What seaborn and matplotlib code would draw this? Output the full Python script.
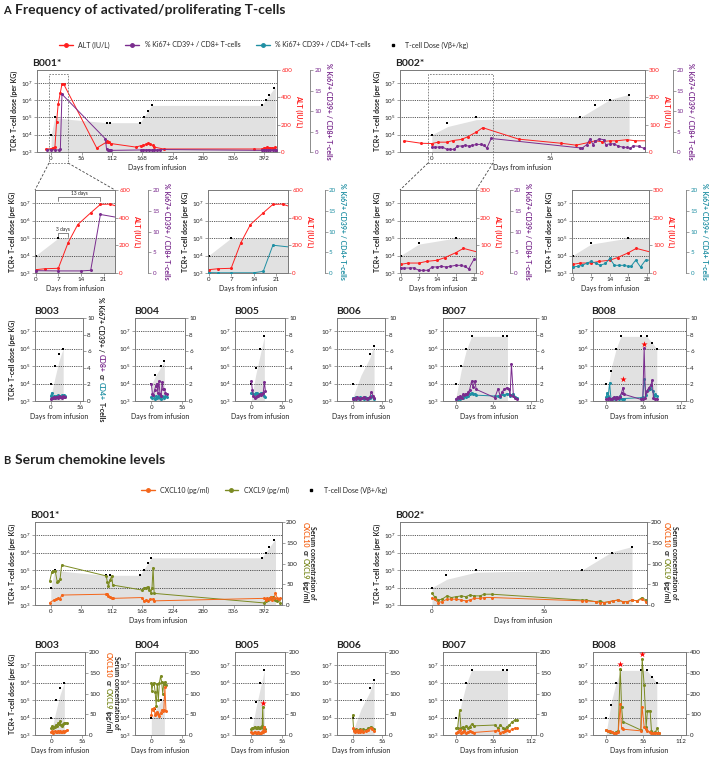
import matplotlib
matplotlib.use("Agg")
import matplotlib.pyplot as plt
from matplotlib.lines import Line2D
from matplotlib.patches import Rectangle
from matplotlib.ticker import NullLocator
import seaborn as sns

# ---------------- data ----------------
# B001
B001_DOSE_DAYS = [0, 7, 102, 109, 164, 171, 179, 185, 388, 395, 402, 411]
B001_DOSE = [1e4, 1e5, 5e4, 5e4, 5e4, 1e5, 2.5e5, 5e5, 5e5, 1e6, 2e6, 5e6]
B001_FILL_DAYS = [0, 7, 30, 60, 102, 164, 185, 388, 411, 413]
B001_FILL = [1e4, 1e5, 8e4, 6.5e4, 5e4, 5e4, 5e5, 5e5, 5e6, 5e6]
B001_ZOOM_FILL_DAYS = [0, 7, 30]
B001_ZOOM_FILL = [1e4, 1e5, 1e5]
B001_ALT_DAYS = [-9, 0, 3, 7, 10, 13, 17, 20, 23, 84, 101, 103, 105, 107, 110, 156, 165, 170,
                 175, 179, 183, 187, 190, 207, 374, 388, 392, 395, 398, 401, 404, 407, 410, 413]
B001_ALT = [22, 24, 31, 34, 218, 350, 435, 496, 498, 29, 70, 78, 76, 75, 62, 36, 46, 50,
            55, 65, 55, 48, 36, 22, 22, 22, 29, 31, 35, 31, 29, 31, 27, 33]
B001_CD8_DAYS = [-7, 0, 7, 14, 17, 20, 100, 102, 104, 106, 108, 111, 165, 170, 175, 180, 185,
                 190, 195, 200, 388, 392, 396, 400, 404, 408, 412, 415]
B001_CD8 = [0.55, 0.56, 0.5, 0.5, 0.65, 14.1, 3.2, 0.8, 0.6, 0.5, 0.5, 0.4, 0.5, 0.6, 0.5, 0.6,
            0.5, 0.6, 0.5, 0.6, 0.4, 0.5, 0.4, 0.5, 0.5, 0.4, 0.5, 0.4]
B001_CD4_DAYS = [0, 3, 7, 14, 17, 20, 27]
B001_CD4 = [0.1, 0.05, 0.05, 0.05, 0.4, 6.7, 6.1]
B001_CXCL9_DAYS = [-2, 2, 5, 8, 12, 14, 17, 20, 102, 104, 106, 109, 112, 114, 168, 172, 175, 178,
                   181, 184, 186, 188, 190, 392, 395, 398, 400, 403, 405, 408, 410, 413, 416, 419, 422]
B001_CXCL9 = [57, 80, 82, 83, 55, 58, 62, 96, 70, 55, 46, 60, 70, 48, 36, 42, 42, 44,
              35, 30, 40, 90, 28, 5, 10, 15, 12, 18, 14, 20, 16, 12, 10, 14, 6]
B001_CXCL10_DAYS = [-2, 6, 10, 14, 17, 20, 102, 104, 106, 109, 112, 114, 168, 171, 175, 179, 183,
                    187, 190, 392, 395, 398, 401, 404, 407, 410, 413, 416, 419, 422]
B001_CXCL10 = [6, 12, 14, 16, 14, 24, 26, 26, 22, 20, 18, 16, 18, 10, 12, 10, 14,
               14, 10, 16, 12, 18, 14, 20, 12, 16, 28, 18, 14, 16]

# B002
B002_DOSE_DAYS = [0, 7, 21, 70, 77, 84, 93]
B002_DOSE = [1e4, 5e4, 1e5, 1e5, 5e5, 1e6, 2e6]
B002_FILL_DAYS = [0, 7.5, 21, 70, 84, 93]
B002_FILL = [1e4, 3e4, 7.5e4, 1e5, 1.1e6, 2.2e6]
B002_ZOOM_FILL_DAYS = [0, 7, 21, 35]
B002_ZOOM_FILL = [1e4, 4.5e4, 1e5, 1e5]
B002_ALT_DAYS = [-13, -5, 0, 3, 7, 10, 14, 17, 21, 24, 41, 61, 68, 74, 77, 80, 84, 87, 92, 96, 101]
B002_ALT = [41, 32, 31, 36, 36, 42, 46, 56, 73, 89, 47, 32, 25, 35, 41, 38, 41, 41, 45, 41, 41]
B002_CD8_DAYS = [0, 1.5, 3.5, 5, 7, 8.5, 10.5, 12, 14, 15.5, 17.5, 19, 21, 23, 24.5, 26, 28,
                 70, 71, 73, 74.6, 76, 77, 79, 81, 82, 84, 86, 88, 90, 92, 93.5, 95, 97.5, 100]
B002_CD8 = [1.2, 1.2, 1.2, 1.25, 0.65, 0.65, 0.65, 1.45, 1.45, 1.6, 1.45, 1.6, 1.85, 1.85, 1.6, 1.0, 3.3,
            1.0, 1.0, 1.8, 3.2, 1.8, 2.6, 3.2, 3.0, 1.8, 2.0, 2.0, 1.4, 1.2, 1.1, 0.9, 1.5, 1.4, 0.9]
B002_CD4_DAYS = [0, 2, 3.6, 5.5, 7, 9, 10.4, 12.4, 14, 15.8, 17.4, 19.5, 21, 22, 23.8, 25.6, 27.5, 30]
B002_CD4 = [1.45, 1.6, 1.85, 2.4, 2.8, 2.3, 1.85, 2.3, 3.5, 1.85, 1.85, 1.85, 1.6, 1.6, 3.1, 1.45, 3.1, 3.1]
B002B_DOSE_DAYS = [0, 7, 22, 75, 82, 90, 100]
B002B_FILL_DAYS = [0, 7.5, 22, 75, 90, 100]
B002_CHEMO_DAYS = [0, 1.3, 3, 5, 7.5, 9.7, 12, 14.7, 16.8, 19, 21, 24, 26, 30, 75, 77, 82, 84, 86,
                   88.5, 90.5, 93, 95.5, 97.7, 100, 102.5, 105, 107]
B002_CXCL9 = [28, 20, 12, 14, 22, 18, 20, 22, 20, 24, 22, 22, 26, 26, 12, 12, 8, 10, 6,
              8, 10, 12, 8, 8, 12, 10, 18, 12]
B002_CXCL10 = [18, 14, 6, 8, 14, 14, 14, 12, 10, 12, 16, 16, 18, 18, 10, 10, 8, 6, 6,
               8, 10, 12, 8, 8, 12, 10, 14, 8]

# B003 - B008
B003_DOSE_DAYS = [0, 8, 16, 24]
B003_DOSE = [1e4, 1e5, 5e5, 1e6]
B003_FILL = [1.5e3, 2e4, 2e5, 1e6]
B004_DOSE_DAYS = [0, 7, 18, 24]
B004_DOSE = [1e4, 3e4, 1e5, 2e5]
B004_FILL = [8e3, 2.5e4, 9e4, 2e5]
B005_DOSE_DAYS = [0, 8, 16, 24]
B005_DOSE = [1e4, 7.5e4, 1e6, 5e6]
B005_FILL = [1.2e3, 3e4, 4e5, 5e6]
B006_DOSE_DAYS = [0, 16, 33, 41]
B006_DOSE = [1e4, 1e5, 5e5, 1.5e6]
B006_FILL = [1.5e3, 3e4, 3e5, 1.5e6]
B007_DOSE_DAYS = [0, 7.5, 15, 23, 70, 77]
B007_DOSE = [1e4, 1e5, 1e6, 5e6, 5e6, 5e6]
B007_FILL_DAYS = [0, 7.5, 15, 23, 77]
B007_FILL = [2e3, 6e4, 8e5, 5e6, 5e6]
B008_DOSE_DAYS = [0, 7.5, 15, 22, 52, 61, 69, 76]
B008_DOSE = [1e4, 5e4, 1e6, 5e6, 5e6, 5e6, 2e6, 9e5]
B008_FILL_DAYS = [0, 7.5, 15, 22, 61, 76]
B008_FILL = [1.5e3, 8e4, 1e6, 5e6, 5e6, 1e6]

B003_T_DAYS = [0, 2, 4, 6, 8, 10, 12, 14, 16, 18, 20, 22, 24, 26, 28]
B003_CD8 = [0.3, 0.4, 0.35, 0.5, 0.4, 0.45, 0.5, 0.4, 0.55, 0.45, 0.5, 0.4, 0.6, 0.5, 0.45]
B003_CD4 = [0.6, 1.0, 0.5, 0.6, 0.4, 0.6, 0.5, 0.7, 0.5, 0.6, 0.55, 0.7, 0.6, 0.75, 0.6]
B004_T_DAYS = [0, 2, 4, 6, 8, 10, 12, 14, 16, 18, 20, 22, 24, 26, 28]
B004_CD8 = [2.1, 0.9, 0.7, 1.3, 1.8, 2.1, 1.0, 2.4, 0.9, 0.6, 2.3, 1.4, 1.5, 1.0, 0.9]
B004_CD4 = [0.5, 0.4, 0.7, 0.3, 0.6, 0.4, 0.5, 0.8, 0.4, 0.3, 0.6, 0.5, 0.4, 0.6, 0.5]
B005_T_DAYS = [0, 2, 4, 6, 8, 10, 12, 14, 16, 18, 20, 22, 24, 26]
B005_CD8 = [2.4, 1.3, 0.6, 0.4, 0.5, 0.6, 0.6, 0.7, 0.8, 0.7, 0.9, 1.0, 2.3, 1.2]
B005_CD4 = [1.0, 1.0, 0.8, 0.8, 1.0, 1.0, 0.9, 0.9, 0.8, 1.0, 0.9, 1.0, 0.6, 0.5]
B006_T_DAYS = [0, 3, 6, 9, 12, 15, 18, 21, 24, 27, 30, 33, 36, 39, 41]
B006_CD8 = [0.3, 0.4, 0.3, 0.5, 0.4, 0.3, 0.4, 0.5, 0.4, 0.3, 0.4, 0.5, 1.1, 0.6, 0.4]
B006_CD4 = [0.4, 0.3, 0.5, 0.4, 0.3, 0.5, 0.4, 0.3, 0.5, 0.4, 0.3, 0.4, 0.6, 0.5, 0.3]
B007_T_DAYS = [0, 2, 4, 6, 8, 10, 12, 14, 16, 18, 20, 23, 25, 28, 30, 58, 63, 66, 69, 72, 76, 79,
               81, 83, 86, 89, 91]
B007_CD8 = [0.25, 0.5, 0.4, 0.6, 0.4, 0.8, 0.7, 0.9, 0.8, 1.1, 1.3, 2.4, 1.7, 2.4, 1.4, 0.4, 1.5, 0.6,
            1.1, 1.4, 1.6, 1.5, 0.7, 4.45, 0.6, 0.4, 0.25]
B007_CD4 = [0.3, 0.2, 0.4, 0.3, 0.5, 0.4, 0.6, 0.5, 0.7, 0.6, 0.9, 1.0, 0.8, 0.9, 0.7, 0.6, 0.6, 0.5,
            0.8, 0.7, 0.9, 0.8, 0.6, 0.7, 0.9, 0.5, 0.4]
B008_CD8_DAYS = [0, 2, 4, 6, 8, 10, 12, 14, 16, 18, 20, 23, 25, 27, 52, 55, 57, 59, 61, 64, 67, 69,
                 71, 73, 76]
B008_CD8 = [0.3, 0.2, 0.4, 0.3, 0.2, 0.4, 0.5, 0.3, 0.5, 0.4, 0.5, 1.0, 1.6, 0.8, 0.2, 0.3, 6.35, 0.4,
            1.2, 1.6, 1.9, 2.5, 0.4, 0.2, 0.3]
B008_CD4_DAYS = [0, 1, 3, 5, 7, 9, 11, 13, 15, 17, 19, 21, 23, 25, 27, 52, 55, 57, 60, 63, 66, 67,
                 70, 72, 74, 76]
B008_CD4 = [0.5, 1.0, 0.6, 2.2, 0.3, 0.2, 0.4, 0.3, 0.5, 0.4, 0.3, 0.6, 0.3, 0.2, 0.3, 0.4, 0.5, 2.6,
            0.7, 1.3, 1.5, 1.9, 1.2, 0.6, 0.8, 0.6]
B008_T_STAR_DAYS = [25, 57]
B008_T_STAR = [2.7, 6.85]

B003_C_DAYS = [0, 2, 4, 6, 8, 10, 12, 14, 16, 18, 20, 22, 24, 26, 28]
B003_CXCL9 = [16, 22, 18, 20, 24, 22, 28, 26, 34, 24, 22, 26, 28, 30, 30]
B003_CXCL10 = [8, 10, 6, 9, 8, 7, 10, 8, 9, 7, 8, 9, 8, 10, 12]
B004_C_DAYS = [0, 1, 3, 5, 7, 9, 11, 13, 15, 17, 19, 21, 23, 25, 27]
B004_CXCL9 = [126, 106, 124, 126, 104, 70, 124, 84, 126, 142, 128, 100, 124, 128, 120]
B004_CXCL10 = [48, 62, 60, 64, 48, 52, 56, 50, 46, 52, 60, 58, 60, 116, 58]
B005_C_DAYS = [0, 2, 4, 6, 8, 10, 12, 14, 16, 18, 20, 21, 22, 24, 26]
B005_CXCL9 = [14, 18, 16, 20, 18, 16, 20, 18, 16, 20, 22, 68, 18, 20, 14]
B005_CXCL10 = [8, 6, 5, 8, 6, 5, 7, 6, 5, 6, 8, 10, 8, 20, 10]
B005_STAR_DAYS = [21]
B005_STAR = [76]
B006_C_DAYS = [0, 2, 4, 6, 8, 10, 12, 14, 16, 18, 20, 25, 30, 35, 38, 40]
B006_CXCL9 = [48, 12, 10, 14, 12, 10, 12, 14, 10, 12, 14, 12, 16, 20, 18, 14]
B006_CXCL10 = [16, 10, 8, 10, 12, 8, 10, 8, 12, 10, 8, 10, 12, 18, 14, 10]
B007_C_DAYS = [0, 2, 5, 7, 10, 12, 15, 18, 20, 23, 26, 58, 63, 66, 70, 73, 76, 80, 84, 88, 91]
B007_CXCL9 = [16, 18, 60, 16, 20, 14, 22, 18, 20, 26, 22, 24, 16, 24, 18, 14, 20, 24, 32, 36, 36]
B007_CXCL10 = [6, 8, 12, 6, 8, 10, 6, 8, 10, 8, 6, 10, 12, 6, 8, 10, 12, 10, 14, 16, 16]
B008_C_DAYS = [0, 3, 6, 9, 12, 15, 18, 21, 23, 25, 52, 54, 57, 60, 62, 66, 68, 71, 74, 77, 79]
B008_CXCL9 = [24, 20, 16, 14, 8, 16, 20, 320, 136, 64, 24, 368, 240, 40, 117, 117, 20, 12, 16, 32, 10]
B008_CXCL10 = [24, 18, 20, 14, 10, 12, 14, 149, 32, 28, 20, 136, 40, 30, 20, 14, 10, 10, 12, 10, 10]
B008_STAR_DAYS = [21, 54]
B008_STAR = [344, 392]

# ---------------- style ----------------
RED = "#ff1f1f"
PURPLE = "#7a2c8e"
TEAL = "#1f8fa3"
ORANGE = "#f4661b"
OLIVE = "#7b8a22"
FILL = "#e1e1e1"
SPINE = "#7a7a7a"
TXT = "#222222"
W, H = 709, 758
YTOP = 10 ** 7.75

sns.set_theme(style="ticks")
plt.rcParams["font.family"] = ["Lato", "DejaVu Sans"]
plt.rcParams["mathtext.fontset"] = "custom"
plt.rcParams["mathtext.rm"] = "Lato"
plt.rcParams["mathtext.default"] = "regular"


def add_ax(fig, x0, y0, x1, y1):
    return fig.add_axes([x0 / W, 1 - y1 / H, (x1 - x0) / W, (y1 - y0) / H])


def dose_axes(fig, rect, dose_x, dose_y, fill_x, fill_y, xlim, xticks, title=None, ylabel=True):
    ax = add_ax(fig, *rect)
    for sp in ax.spines.values():
        sp.set_color(SPINE)
        sp.set_linewidth(0.6)
    ax.set_yscale("log")
    ax.fill_between(fill_x, fill_y, 1e3, color=FILL, lw=0, zorder=1)
    sns.scatterplot(x=dose_x, y=dose_y, ax=ax, color="black", marker="s", s=3,
                    linewidth=0, zorder=4, legend=False)
    ax.set_ylim(1e3, YTOP)
    ax.set_yticks([1e3, 1e4, 1e5, 1e6, 1e7])
    ax.yaxis.set_minor_locator(NullLocator())
    ax.set_xlim(*xlim)
    ax.set_xticks(xticks)
    ax.grid(axis="y", ls=(0, (1, 1.2)), color="#222222", lw=0.6)
    ax.set_axisbelow("line")
    ax.tick_params(length=2, width=0.5, pad=1, labelsize=4.5, colors=SPINE, labelcolor=TXT)
    ax.set_xlabel("Days from infusion", fontsize=5, labelpad=2, color=TXT)
    ax.set_ylabel("TCR+ T-cell dose (per KG)" if ylabel else "", fontsize=5,
                  fontweight="bold", labelpad=2, color=TXT)
    if title:
        ax.text(-0.02, 1.03, title, transform=ax.transAxes, fontsize=7.5,
                fontweight="bold", ha="left", va="bottom", color=TXT)
    return ax


def right_axis(ax, lim, ticks, color, offset=None):
    r = ax.twinx()
    r.set_ylim(*lim)
    r.set_yticks(ticks)
    for sp in r.spines.values():
        sp.set_color(SPINE)
        sp.set_linewidth(0.6)
    if offset:
        r.spines["right"].set_position(("outward", offset))
        for side in ("top", "bottom", "left"):
            r.spines[side].set_visible(False)
    r.tick_params(axis="y", length=2, width=0.5, pad=1, labelsize=4.5,
                  colors=SPINE, labelcolor=color)
    r.grid(False)
    return r


def series(ax, x, y, color):
    sns.lineplot(x=x, y=y, ax=ax, color=color, marker="o", markersize=2.2,
                 markeredgewidth=0, linewidth=0.7, sort=False, estimator=None, legend=False)


def stars(ax, x, y):
    sns.scatterplot(x=x, y=y, ax=ax, color="red", marker="*", s=22, linewidth=0,
                    zorder=6, legend=False)


def rlabel(ax, text, color):
    ax.set_ylabel(text, rotation=270, va="bottom", color=color, fontsize=5,
                  fontweight="bold", labelpad=2)


def stacked_label(fig, x_px, yc_px, pieces):
    rend = fig.canvas.get_renderer()
    texts = [fig.text(0, 0, s, color=c, rotation=270, ha="center", va="top",
                      fontsize=5, fontweight="bold") for s, c in pieces]
    hs = [t.get_window_extent(rend).height for t in texts]
    gap = 1.8
    y = (H - yc_px) + (sum(hs) + gap * (len(hs) - 1)) / 2
    for t, h in zip(texts, hs):
        t.set_position((x_px / W, y / H))
        y -= h + gap


fig = plt.figure(figsize=(W / 100, H / 100), dpi=100)
fig.patch.set_facecolor("white")

# ---------------- section A ----------------
fig.text(3 / W, 1 - 10 / H, "A", fontsize=8, fontweight="bold", va="center", color=TXT)
fig.text(15 / W, 1 - 10 / H, "Frequency of activated/proliferating T-cells", fontsize=10,
         fontweight="bold", va="center", color=TXT)
handles_a = [Line2D([], [], color=RED, marker="o", ms=2.5, lw=1),
             Line2D([], [], color=PURPLE, marker="o", ms=2.5, lw=1),
             Line2D([], [], color=TEAL, marker="o", ms=2.5, lw=1),
             Line2D([], [], color="black", marker="s", ms=2, lw=0)]
fig.legend(handles_a, ["ALT (IU/L)", "% Ki67+ CD39+ / CD8+ T-cells",
                       "% Ki67+ CD39+ / CD4+ T-cells", "T-cell Dose (V\u03b2+/kg)"],
           loc="center", bbox_to_anchor=(0.372, 1 - 45 / H), ncol=4, frameon=False,
           fontsize=5, handlelength=2, handletextpad=0.8, columnspacing=2.2)

# top row
ax = dose_axes(fig, (37, 70, 277, 152), B001_DOSE_DAYS, B001_DOSE, B001_FILL_DAYS, B001_FILL,
               (-26, 416), list(range(0, 393, 56)), "B001*")
alt = right_axis(ax, (0, 600), [0, 200, 400, 600], RED)
cd8 = right_axis(ax, (0, 20), [0, 5, 10, 15, 20], PURPLE, offset=24)
series(alt, B001_ALT_DAYS, B001_ALT, RED)
series(cd8, B001_CD8_DAYS, B001_CD8, PURPLE)
rlabel(alt, "ALT (IU/L)", RED)
rlabel(cd8, "% Ki67+ CD39+ / CD8+ T-cells", PURPLE)
ax.set_xlim(-26, 416)

ax = dose_axes(fig, (400, 70, 645, 152), B002_DOSE_DAYS, B002_DOSE, B002_FILL_DAYS, B002_FILL,
               (-15, 100.5), [0, 56], "B002*")
alt = right_axis(ax, (0, 300), [0, 100, 200, 300], RED)
cd8 = right_axis(ax, (0, 20), [0, 5, 10, 15, 20], PURPLE, offset=20)
series(alt, B002_ALT_DAYS, B002_ALT, RED)
series(cd8, B002_CD8_DAYS, B002_CD8, PURPLE)
rlabel(alt, "ALT (IU/L)", RED)
rlabel(cd8, "% Ki67+ CD39+ / CD8+ T-cells", PURPLE)
ax.set_xlim(-15, 100.5)

# zoom rectangles and connectors
for (rx0, rx1, lx0, lx1) in [(49, 68, 35, 115), (428, 493, 400, 476)]:
    fig.add_artist(Rectangle((rx0 / W, 1 - 163 / H), (rx1 - rx0) / W, (163 - 74) / H,
                             transform=fig.transFigure, fill=False, ec="#777777", lw=0.6,
                             ls=(0, (2, 1.5))))
    for a, b in [(rx0, lx0), (rx1, lx1)]:
        fig.add_artist(Line2D([a / W, b / W], [1 - 163 / H, 1 - 190 / H],
                              transform=fig.transFigure, color="#444444", lw=0.6,
                              ls=(0, (3, 2))))

# middle (zoomed) row
zooms = [
    ((35, 190, 115, 273), B001_DOSE_DAYS, B001_DOSE, B001_ZOOM_FILL_DAYS, B001_ZOOM_FILL, (-0.2, 24.5),
     [0, 7, 14, 21], (0, 600), [0, 200, 400, 600], B001_ALT_DAYS, B001_ALT,
     B001_CD8_DAYS, B001_CD8, PURPLE, "CD8", 24),
    ((208, 190, 288, 273), B001_DOSE_DAYS, B001_DOSE, B001_ZOOM_FILL_DAYS, B001_ZOOM_FILL, (-0.2, 24.7),
     [0, 7, 14, 21], (0, 600), [0, 200, 400, 600], B001_ALT_DAYS, B001_ALT,
     B001_CD4_DAYS, B001_CD4, TEAL, "CD4", 26.5),
    ((400, 190, 476, 273), B002_DOSE_DAYS, B002_DOSE, B002_ZOOM_FILL_DAYS, B002_ZOOM_FILL, (-0.2, 28.8),
     [0, 7, 14, 21, 28], (0, 300), [0, 100, 200, 300], B002_ALT_DAYS, B002_ALT,
     B002_CD8_DAYS, B002_CD8, PURPLE, "CD8", 24.5),
    ((572, 190, 649, 273), B002_DOSE_DAYS, B002_DOSE, B002_ZOOM_FILL_DAYS, B002_ZOOM_FILL, (-0.2, 28.8),
     [0, 7, 14, 21, 28], (0, 300), [0, 100, 200, 300], B002_ALT_DAYS, B002_ALT,
     B002_CD4_DAYS, B002_CD4, TEAL, "CD4", 27),
]
for i, (rect, dx, dy, fx, fy, xl, xt, alim, aticks, ax_d, ax_v, tx, ty, tc, tname, off) in enumerate(zooms):
    ax = dose_axes(fig, rect, dx, dy, fx, fy, xl, xt)
    alt = right_axis(ax, alim, aticks, RED)
    tc_ax = right_axis(ax, (0, 20), [0, 5, 10, 15, 20], tc, offset=off)
    series(alt, ax_d, ax_v, RED)
    series(tc_ax, tx, ty, tc)
    rlabel(alt, "ALT (IU/L)", RED)
    rlabel(tc_ax, "% Ki67+ CD39+ / " + tname + "+ T-cells", tc)
    ax.set_xlim(*xl)
    if i == 0:
        ax.plot([7, 7, 20, 20], [10 ** 7.14, 10 ** 7.33, 10 ** 7.33, 10 ** 7.14], color="#555555", lw=0.5)
        ax.text(13.5, 10 ** 7.38, "13 days", fontsize=3.5, ha="center", va="bottom", color=TXT)
        ax.plot([7, 7, 10, 10], [10 ** 5.08, 10 ** 5.31, 10 ** 5.31, 10 ** 5.08], color="#555555", lw=0.5)
        ax.text(8.5, 10 ** 5.36, "3 days", fontsize=3.5, ha="center", va="bottom", color=TXT)

# bottom row A
short = ((-30, 62), [0, 56])
long_ = ((-20, 120), [0, 56, 112])
row_a = [
    ("B003", (35, 83), B003_DOSE_DAYS, B003_DOSE, B003_DOSE_DAYS, B003_FILL, short,
     B003_T_DAYS, B003_CD8, B003_T_DAYS, B003_CD4),
    ("B004", (135, 185), B004_DOSE_DAYS, B004_DOSE, B004_DOSE_DAYS, B004_FILL, short,
     B004_T_DAYS, B004_CD8, B004_T_DAYS, B004_CD4),
    ("B005", (235, 285), B005_DOSE_DAYS, B005_DOSE, B005_DOSE_DAYS, B005_FILL, short,
     B005_T_DAYS, B005_CD8, B005_T_DAYS, B005_CD4),
    ("B006", (337, 385), B006_DOSE_DAYS, B006_DOSE, B006_DOSE_DAYS, B006_FILL, short,
     B006_T_DAYS, B006_CD8, B006_T_DAYS, B006_CD4),
    ("B007", (443, 536), B007_DOSE_DAYS, B007_DOSE, B007_FILL_DAYS, B007_FILL, long_,
     B007_T_DAYS, B007_CD8, B007_T_DAYS, B007_CD4),
    ("B008", (593, 686), B008_DOSE_DAYS, B008_DOSE, B008_FILL_DAYS, B008_FILL, long_,
     B008_CD8_DAYS, B008_CD8, B008_CD4_DAYS, B008_CD4),
]
for name, (x0, x1), dx, dy, fx, fy, (xl, xt), c8x, c8y, c4x, c4y in row_a:
    ax = dose_axes(fig, (x0, 318, x1, 401), dx, dy, fx, fy, xl, xt, name, ylabel=(name == "B003"))
    r = right_axis(ax, (0, 10), [0, 2, 4, 6, 8, 10], TXT)
    series(r, c4x, c4y, TEAL)
    series(r, c8x, c8y, PURPLE)
    if name == "B008":
        stars(r, B008_T_STAR_DAYS, B008_T_STAR)
    r.set_ylabel("")
    ax.set_xlim(*xl)

# ---------------- section B ----------------
fig.text(3 / W, 1 - 460 / H, "B", fontsize=8, fontweight="bold", va="center", color=TXT)
fig.text(15 / W, 1 - 460 / H, "Serum chemokine levels", fontsize=10, fontweight="bold",
         va="center", color=TXT)
handles_b = [Line2D([], [], color=ORANGE, marker="o", ms=2.5, lw=1),
             Line2D([], [], color=OLIVE, marker="o", ms=2.5, lw=1),
             Line2D([], [], color="black", marker="s", ms=2, lw=0)]
fig.legend(handles_b, ["CXCL10 (pg/ml)", "CXCL9 (pg/ml)", "T-cell Dose (V\u03b2+/kg)"],
           loc="center", bbox_to_anchor=(0.372, 1 - 490 / H), ncol=3, frameon=False,
           fontsize=5, handlelength=2, handletextpad=0.8, columnspacing=2.2)

row_b_top = [
    ("B001*", (35, 282), B001_DOSE_DAYS, B001_DOSE, B001_FILL_DAYS, B001_FILL, (-29, 425),
     list(range(0, 393, 56)), B001_CXCL9_DAYS, B001_CXCL9, B001_CXCL10_DAYS, B001_CXCL10),
    ("B002*", (400, 647), B002B_DOSE_DAYS, B002_DOSE, B002B_FILL_DAYS, B002_FILL, (-16, 107.5),
     [0, 56], B002_CHEMO_DAYS, B002_CXCL9, B002_CHEMO_DAYS, B002_CXCL10),
]
for name, (x0, x1), dx, dy, fx, fy, xl, xt, c9x, c9y, c10x, c10y in row_b_top:
    ax = dose_axes(fig, (x0, 522, x1, 605), dx, dy, fx, fy, xl, xt, name)
    r = right_axis(ax, (0, 200), [0, 50, 100, 150, 200], TXT)
    series(r, c9x, c9y, OLIVE)
    series(r, c10x, c10y, ORANGE)
    r.set_ylabel("")
    ax.set_xlim(*xl)

row_b = [
    ("B003", (35, 85), B003_DOSE_DAYS, B003_DOSE, B003_DOSE_DAYS, B003_FILL, short,
     B003_C_DAYS, B003_CXCL9, B003_CXCL10, None, (0, 200)),
    ("B004", (135, 185), B004_DOSE_DAYS, B004_DOSE, B004_DOSE_DAYS, B004_FILL, short,
     B004_C_DAYS, B004_CXCL9, B004_CXCL10, None, (0, 200)),
    ("B005", (235, 285), B005_DOSE_DAYS, B005_DOSE, B005_DOSE_DAYS, B005_FILL, short,
     B005_C_DAYS, B005_CXCL9, B005_CXCL10, (B005_STAR_DAYS, B005_STAR), (0, 200)),
    ("B006", (337, 385), B006_DOSE_DAYS, B006_DOSE, B006_DOSE_DAYS, B006_FILL, short,
     B006_C_DAYS, B006_CXCL9, B006_CXCL10, None, (0, 200)),
    ("B007", (443, 536), B007_DOSE_DAYS, B007_DOSE, B007_FILL_DAYS, B007_FILL, long_,
     B007_C_DAYS, B007_CXCL9, B007_CXCL10, None, (0, 200)),
    ("B008", (593, 686), B008_DOSE_DAYS, B008_DOSE, B008_FILL_DAYS, B008_FILL, long_,
     B008_C_DAYS, B008_CXCL9, B008_CXCL10, (B008_STAR_DAYS, B008_STAR), (0, 400)),
]
for name, (x0, x1), dx, dy, fx, fy, (xl, xt), cx, c9, c10, st, rlim in row_b:
    ax = dose_axes(fig, (x0, 652, x1, 735), dx, dy, fx, fy, xl, xt, name, ylabel=(name == "B003"))
    step = rlim[1] // 4
    r = right_axis(ax, rlim, list(range(0, rlim[1] + 1, step)), TXT)
    series(r, cx, c9, OLIVE)
    series(r, cx, c10, ORANGE)
    if st:
        stars(r, st[0], st[1])
    r.set_ylabel("")
    ax.set_xlim(*xl)

# multi-coloured right-hand labels
serum = [("CXCL10", ORANGE), ("or", TXT), ("CXCL9", OLIVE), ("(pg/ml)", TXT)]
for x_first, yc in [(313, 563), (674, 563), (116, 693)]:
    stacked_label(fig, x_first, yc, [("Serum concentration of", TXT)])
    stacked_label(fig, x_first - 7.5, yc, serum)
stacked_label(fig, 101, 360, [("% Ki67+ CD39+ /", TXT), ("CD8+", PURPLE), ("or", TXT),
                              ("CD4+", TEAL), ("T-cells", TXT)])

fig.savefig("out.png", dpi=100, facecolor="white")
